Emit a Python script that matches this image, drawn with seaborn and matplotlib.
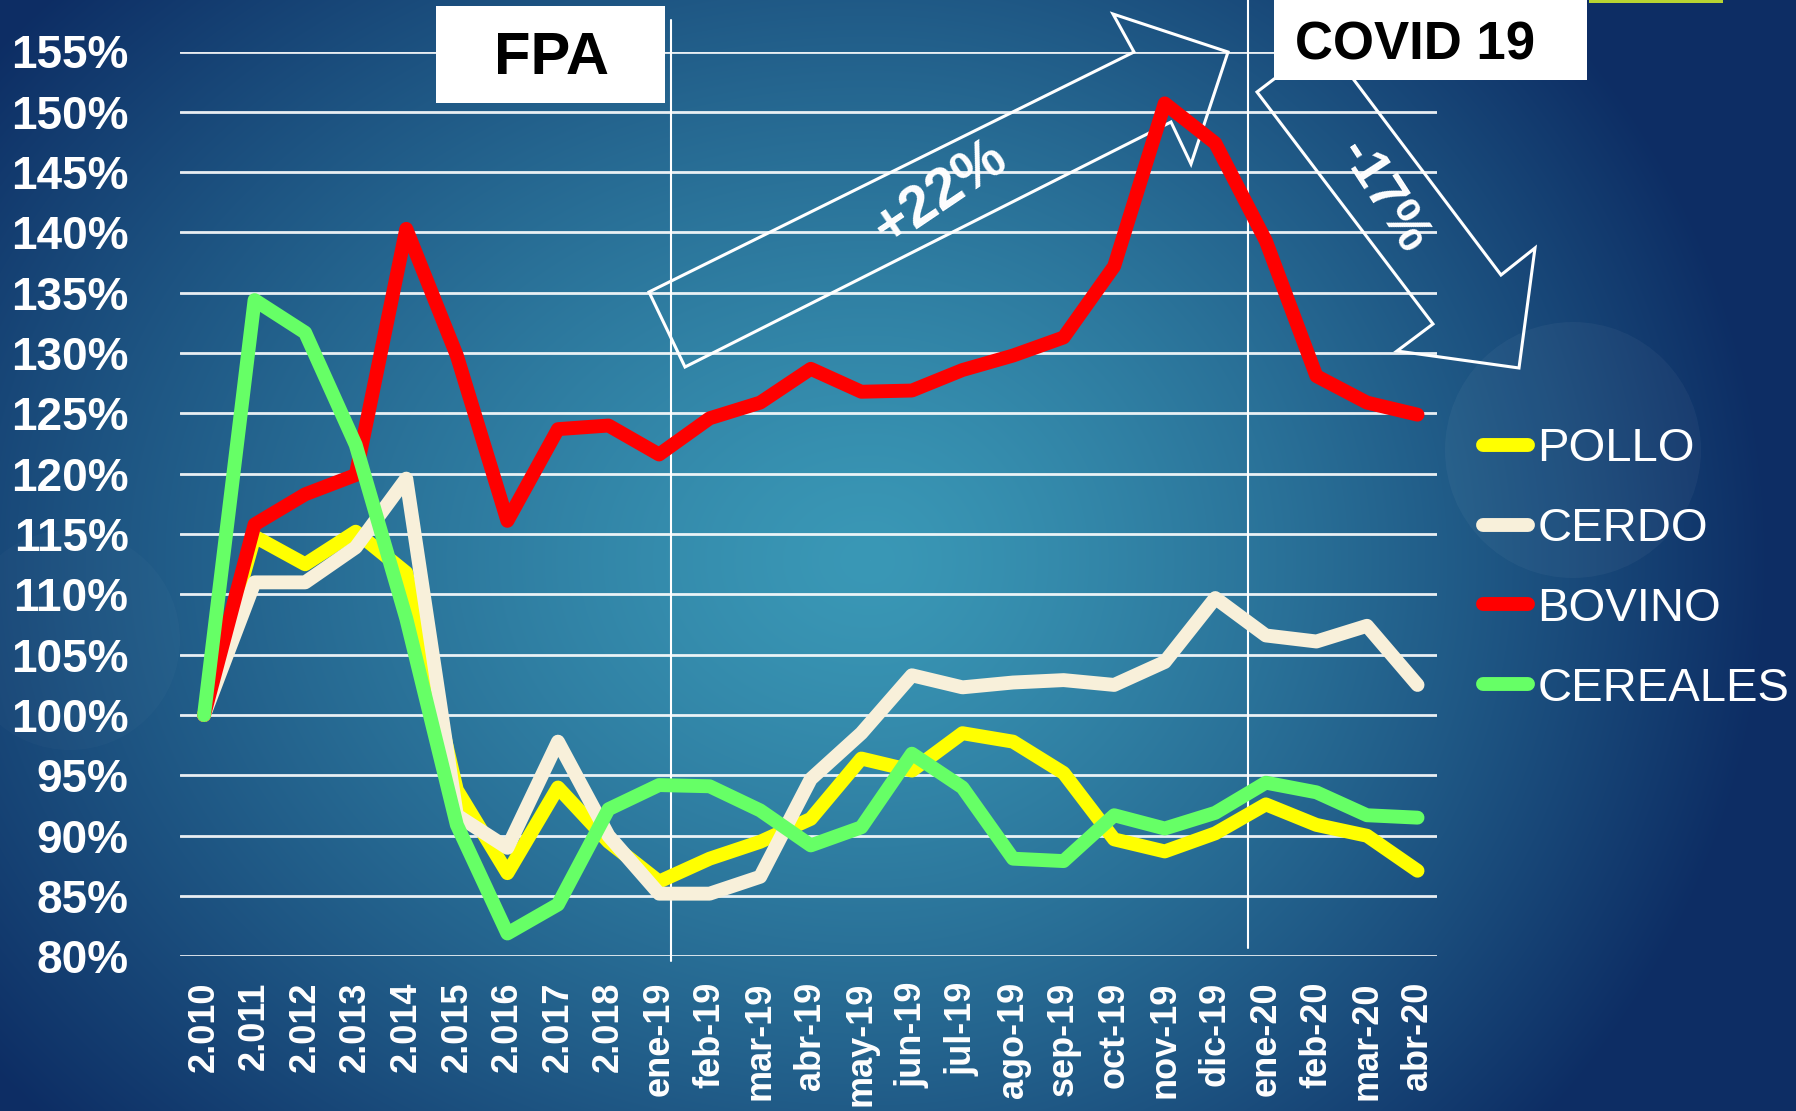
import numpy as np
import pandas as pd
import matplotlib
matplotlib.use('Agg')
import matplotlib.pyplot as plt
from matplotlib.patches import Polygon, Rectangle, Circle
from matplotlib.lines import Line2D
import seaborn as sns

# ─── 1. DATA (% vs 2010) ───────────────────────────────────────────────────
periods = ['2.010', '2.011', '2.012', '2.013', '2.014', '2.015', '2.016', '2.017', '2.018',
           'ene-19', 'feb-19', 'mar-19', 'abr-19', 'may-19', 'jun-19', 'jul-19', 'ago-19',
           'sep-19', 'oct-19', 'nov-19', 'dic-19', 'ene-20', 'feb-20', 'mar-20', 'abr-20']

pollo = [100, 114.8, 112.5, 115.2, 111.8, 93.8, 86.9, 94.0, 89.5,
         86.2, 88.1, 89.5, 91.4, 96.4, 95.4, 98.5, 97.8,
         95.2, 89.7, 88.7, 90.2, 92.6, 90.9, 90.0, 87.1]
cerdo = [100, 111.0, 111.0, 113.9, 119.6, 91.7, 89.0, 97.8, 90.0,
         85.2, 85.2, 86.6, 94.7, 98.5, 103.3, 102.3, 102.7,
         102.9, 102.5, 104.4, 109.7, 106.6, 106.1, 107.4, 102.5]
bovino = [100, 115.8, 118.3, 119.9, 140.3, 129.8, 116.1, 123.7, 124.0,
          121.6, 124.6, 125.9, 128.7, 126.8, 126.9, 128.6, 129.8,
          131.3, 137.2, 150.7, 147.4, 139.3, 128.1, 125.9, 124.9]
cereales = [100, 134.4, 131.7, 122.4, 108.0, 90.9, 81.9, 84.3, 92.2,
            94.2, 94.1, 92.1, 89.2, 90.7, 96.8, 94.0, 88.1,
            87.9, 91.7, 90.6, 91.9, 94.4, 93.6, 91.7, 91.5]

series_names = ['POLLO', 'CERDO', 'BOVINO', 'CEREALES']
series_colors = ['#FFFF00', '#F8F0DA', '#FF0000', '#66FF66']
y_ticks = list(range(80, 160, 5))

df = pd.DataFrame({
    'periodo': periods * 4,
    'valor':   pollo + cerdo + bovino + cereales,
    'serie':   np.repeat(series_names, len(periods)),
})

# ─── 2. FIGURE + GRADIENT BACKGROUND ──────────────────────────────────────
sns.set_theme(style='white')
plt.rcParams['font.family'] = ['Liberation Sans', 'DejaVu Sans']

W, H = 1796, 1111
fig = plt.figure(figsize=(W / 100, H / 100), dpi=100)

ax_bg = fig.add_axes([0, 0, 1, 1], zorder=-1)
yy, xx = np.mgrid[0:H, 0:W]
cx, cy = 870, 560
rx = np.where(xx < cx, 1100, 900)
r = np.sqrt(((xx - cx) / rx) ** 2 + ((yy - cy) / 850) ** 2)
t = np.clip(r, 0, 1) ** 1.3
c_center = np.array([58, 152, 182]) / 255
c_edge = np.array([13, 45, 100]) / 255
img = c_center * (1 - t[..., None]) + c_edge * t[..., None]
ax_bg.imshow(img, extent=(0, W, H, 0), aspect='auto')
# faint decorative discs
ax_bg.add_patch(Circle((1573, 450), 128, color='white', alpha=0.04, lw=0))
ax_bg.add_patch(Circle((70, 640), 110, color='white', alpha=0.02, lw=0))
ax_bg.set_xlim(0, W)
ax_bg.set_ylim(H, 0)
ax_bg.axis('off')

# ─── 3. MAIN LINE CHART ───────────────────────────────────────────────────
ax = fig.add_axes([180 / W, 1 - 956.4 / H, (1437 - 180) / W, (956.4 - 51.5) / H])
ax.set_facecolor('none')

sns.lineplot(data=df, x='periodo', y='valor', hue='serie', palette=series_colors,
             estimator=None, errorbar=None, sort=False, lw=10, legend=False, ax=ax,
             solid_capstyle='round', solid_joinstyle='round', clip_on=False)

ax.set_xlim(-0.475, len(periods) - 1 + 0.385)
ax.set_ylim(80, 155)
ax.set_yticks(y_ticks)
ax.set_yticklabels([f'{v}%' for v in y_ticks])
ax.set_xlabel('')
ax.set_ylabel('')
for s in ax.spines.values():
    s.set_visible(False)
ax.grid(False)
ax.yaxis.grid(True, color='white', lw=2, alpha=0.9)
ax.set_axisbelow(True)
ax.tick_params(axis='y', length=0, pad=37, labelsize=33, labelcolor='white')
ax.tick_params(axis='x', length=0, pad=18, labelsize=26, labelcolor='white', rotation=90)
for lab in ax.get_yticklabels() + ax.get_xticklabels():
    lab.set_fontweight('bold')

# the two white vertical markers (start of 2019 and start of 2020)
x19 = periods.index('ene-19') + 0.23
x20 = periods.index('ene-20') - 0.36
ax.plot([x19, x19], [79.6, 157.6], color='white', lw=1.5, clip_on=False, zorder=1)
ax.plot([x20, x20], [80.7, 159.6], color='white', lw=1.5, clip_on=False, zorder=1)

# legend on the right
handles = [Line2D([0], [0], color=c, lw=10, solid_capstyle='round') for c in series_colors]
leg = ax.legend(handles, series_names, loc='center left', bbox_to_anchor=(1483 / W, 1 - 569 / H),
                bbox_transform=fig.transFigure, frameon=False, fontsize=34, handlelength=0.95,
                handletextpad=0.2, labelspacing=0.76, borderpad=0, borderaxespad=0)
for txt in leg.get_texts():
    txt.set_color('white')

# ─── 4. ANNOTATIONS (arrows, boxes) ───────────────────────────────────────
def px(pts):
    return [(x / W, 1 - y / H) for x, y in pts]

up_arrow = [(649, 292), (1134, 52), (1113, 14), (1228, 52), (1191, 164), (1171, 122), (685, 367)]
down_arrow = [(1257, 92), (1324, 41), (1354, 80), (1501, 275), (1535, 248), (1519, 368),
              (1397, 351), (1433, 324)]
for pts in (up_arrow, down_arrow):
    fig.patches.append(Polygon(px(pts), closed=True, fill=False, ec='white', lw=2.2,
                               transform=fig.transFigure, zorder=-0.5))

fig.text(941 / W, 1 - 194 / H, '+22%', color='white', fontsize=41, fontweight='bold',
         rotation=34, ha='center', va='center', zorder=-0.4)
fig.text(1383 / W, 1 - 197 / H, '-17%', color='white', fontsize=38, fontweight='bold',
         rotation=-57, ha='center', va='center', zorder=-0.4)

fig.patches.append(Rectangle((436 / W, 1 - 103 / H), (665 - 436) / W, 97 / H, fc='white',
                             ec='none', transform=fig.transFigure, zorder=5))
fig.text(552 / W, 1 - 59 / H, 'FPA', color='black', fontsize=43, fontweight='bold',
         ha='center', va='center', zorder=6)

fig.patches.append(Rectangle((1274 / W, 1 - 80 / H), (1587 - 1274) / W, 80 / H, fc='white',
                             ec='none', transform=fig.transFigure, zorder=5))
fig.text(1415 / W, 1 - 45 / H, 'COVID 19', color='black', fontsize=38, fontweight='bold',
         ha='center', va='center', zorder=6)
fig.patches.append(Rectangle((1589 / W, 1 - 3 / H), (1723 - 1589) / W, 3 / H, fc='#B8D432',
                             ec='none', transform=fig.transFigure, zorder=5))

plt.savefig('out.png', dpi=100)
